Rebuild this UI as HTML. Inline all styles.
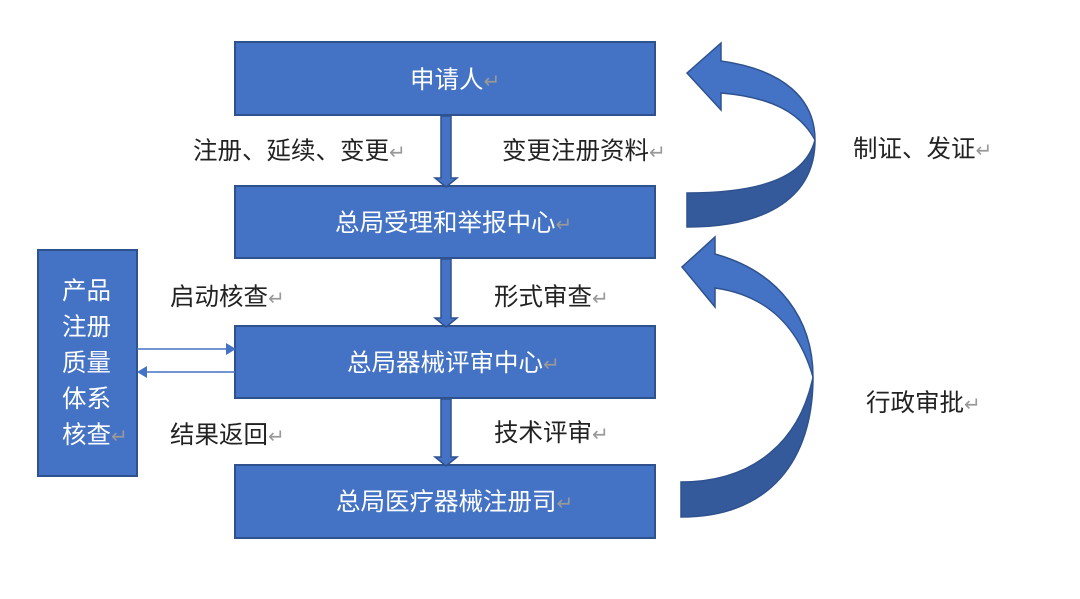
<!DOCTYPE html>
<html><head><meta charset="utf-8"><style>
body{margin:0;background:#fff;}
svg text{font-family:"Liberation Sans","Noto Sans CJK SC",sans-serif;font-size:24.5px;}
.w{fill:#fff}.k{fill:#222}.r{fill:#999;font-size:20px}
</style></head><body>
<svg width="1080" height="594" xmlns="http://www.w3.org/2000/svg">
<g fill="#4472C4" stroke="#2F528F" stroke-width="2">
<rect x="235" y="42" width="420" height="73"/>
<rect x="235" y="186" width="420" height="72"/>
<rect x="235" y="326" width="420" height="72"/>
<rect x="235" y="465" width="420" height="73"/>
<rect x="38" y="250" width="99" height="226"/>
</g>
<g fill="#4472C4" stroke="#2F528F" stroke-width="1.5">
<path d="M441,116 H451 V178 H457 L446,187 L435,178 H441 Z"/>
<path d="M441,259 H451 V318 H457 L446,327 L435,318 H441 Z"/>
<path d="M441,399 H451 V457 H457 L446,466 L435,457 H441 Z"/>
</g>
<line x1="137" y1="349" x2="228" y2="349" stroke="#4472C4" stroke-width="1.5"/>
<path d="M236,349 L226,343 L226,355 Z" fill="#4472C4"/>
<line x1="145" y1="372" x2="235" y2="372" stroke="#4472C4" stroke-width="1.5"/>
<path d="M137,372 L147,366 L147,378 Z" fill="#4472C4"/>
<path d="M815,140 C805,178 760,193 687,193 V227 C770,227 815,195 815,140 Z" fill="#345A9C" stroke="#2F528F" stroke-width="1.5"/>
<path d="M721,61 C785,70 815,100 815,140 C800,112 770,97 721,93 V110 L687,73 L721,43 Z" fill="#4472C4" stroke="#2F528F" stroke-width="1.5"/>
<path d="M813,377 C800,440 755,482 681,482 V517 C770,517 813,460 813,377 Z" fill="#345A9C" stroke="#2F528F" stroke-width="1.5"/>
<path d="M715,254 C780,272 813,320 813,377 C798,325 765,295 715,288 V307 L682,267 L715,237 Z" fill="#4472C4" stroke="#2F528F" stroke-width="1.5"/>
<text x="410" y="88" class="w">申请人<tspan class="r">↵</tspan></text>
<text x="335" y="231" class="w">总局受理和举报中心<tspan class="r">↵</tspan></text>
<text x="347" y="371" class="w">总局器械评审中心<tspan class="r">↵</tspan></text>
<text x="336" y="510" class="w">总局医疗器械注册司<tspan class="r">↵</tspan></text>
<text x="193" y="159" class="k">注册、延续、变更<tspan class="r">↵</tspan></text>
<text x="502" y="159" class="k">变更注册资料<tspan class="r">↵</tspan></text>
<text x="853" y="157" class="k">制证、发证<tspan class="r">↵</tspan></text>
<text x="170" y="305" class="k">启动核查<tspan class="r">↵</tspan></text>
<text x="494" y="305" class="k">形式审查<tspan class="r">↵</tspan></text>
<text x="866" y="411" class="k">行政审批<tspan class="r">↵</tspan></text>
<text x="170" y="443" class="k">结果返回<tspan class="r">↵</tspan></text>
<text x="494" y="441" class="k">技术评审<tspan class="r">↵</tspan></text>
<text x="62" y="299" class="w">产品</text>
<text x="62" y="335" class="w">注册</text>
<text x="62" y="371" class="w">质量</text>
<text x="62" y="407" class="w">体系</text>
<text x="62" y="443" class="w">核查<tspan class="r">↵</tspan></text>
</svg>
</body></html>
